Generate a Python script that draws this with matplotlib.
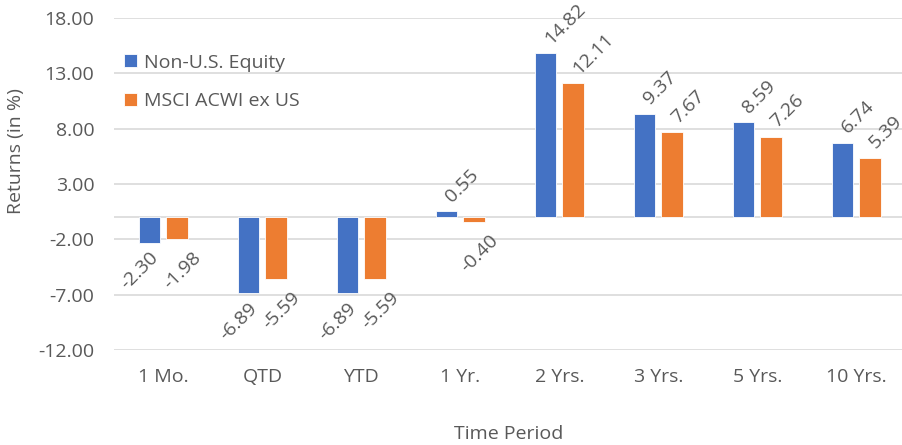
import numpy as np
import matplotlib
matplotlib.use("Agg")
import matplotlib.pyplot as plt

periods = ["1 Mo.", "QTD", "YTD", "1 Yr.", "2 Yrs.", "3 Yrs.", "5 Yrs.", "10 Yrs."]
non_us_equity = [-2.30, -6.89, -6.89, 0.55, 14.82, 9.37, 8.59, 6.74]
msci_acwi_ex_us = [-1.98, -5.59, -5.59, -0.40, 12.11, 7.67, 7.26, 5.39]
y_ticks = [-12, -7, -2, 3, 8, 13, 18]

BLUE = "#4472C4"
ORANGE = "#ED7D31"
TEXT = "#595959"
GRID = "#D9D9D9"
FS = 14

plt.rcParams["font.family"] = ["Open Sans", "DejaVu Sans"]


def label_bars(ax, xs, vals, neg_dx, neg_dy):
    # rotated labels, aligned by their rotated bounding box
    for x, v in zip(xs, vals):
        if v >= 0:
            ax.annotate(f"{v:.2f}", (x, v), xytext=(-3, 4), textcoords="offset points",
                        rotation=45, ha="left", va="bottom", fontsize=FS, color=TEXT)
        else:
            ax.annotate(f"{v:.2f}", (x, v), xytext=(neg_dx, neg_dy), textcoords="offset points",
                        rotation=45, ha="right", va="top", fontsize=FS, color=TEXT)


def main():
    fig = plt.figure(figsize=(9.03, 4.45), dpi=100)
    ax = fig.add_axes([0.126, 0.2135, 0.874, 0.746])

    x = np.arange(len(periods))
    w = 0.22
    off = 0.14
    ax.bar(x - off, non_us_equity, w, color=BLUE, edgecolor="white", linewidth=0.6,
           label="Non-U.S. Equity", zorder=3)
    ax.bar(x + off, msci_acwi_ex_us, w, color=ORANGE, edgecolor="white", linewidth=0.6,
           label="MSCI ACWI ex US", zorder=3)
    label_bars(ax, x - off, non_us_equity, 9, -4)
    label_bars(ax, x + off, msci_acwi_ex_us, 20, -7)

    ax.set_ylim(-12, 18)
    ax.set_xlim(-0.5, 7.47)
    ax.set_yticks(y_ticks)
    ax.set_yticklabels([f"{t:.2f}" for t in y_ticks])
    ax.set_xticks(x)
    ax.set_xticklabels(periods)
    ax.tick_params(axis="both", length=0, labelsize=FS, labelcolor=TEXT)
    ax.tick_params(axis="x", pad=13)
    ax.tick_params(axis="y", pad=14)
    ax.grid(axis="y", color=GRID, linewidth=1.2, zorder=0)
    ax.axhline(0, color=GRID, linewidth=1.2, zorder=2)
    for s in ax.spines.values():
        s.set_visible(False)

    ax.set_xlabel("Time Period", fontsize=FS, color=TEXT, labelpad=28)
    ax.set_ylabel("Returns (in %)", fontsize=FS, color=TEXT)
    ax.yaxis.set_label_coords(-0.112, 0.60)

    ax.legend(loc="upper left", bbox_to_anchor=(0.0, 0.925), frameon=False,
              fontsize=FS, labelcolor=TEXT, handlelength=0.65, handleheight=0.65,
              handletextpad=0.35, labelspacing=1.05, borderaxespad=0.15)

    fig.savefig("out.png", dpi=100)


if __name__ == "__main__":
    main()
